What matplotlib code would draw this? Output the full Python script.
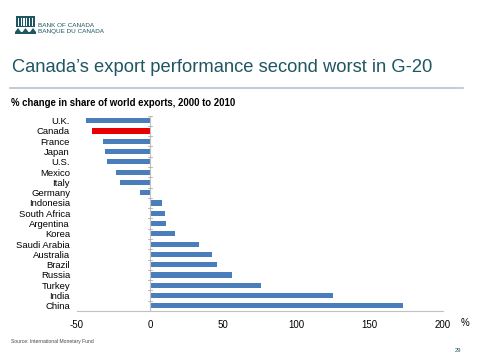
import matplotlib
matplotlib.use("Agg")
import matplotlib.pyplot as plt
from matplotlib.patches import Rectangle, Polygon

plt.rcParams['font.family'] = ['Liberation Sans', 'DejaVu Sans']

countries = ["U.K.", "Canada", "France", "Japan", "U.S.", "Mexico", "Italy", "Germany",
             "Indonesia", "South Africa", "Argentina", "Korea", "Saudi Arabia", "Australia",
             "Brazil", "Russia", "Turkey", "India", "China"]
values = [-43.6, -40.0, -32.0, -31.0, -29.2, -23.3, -20.3, -6.7,
          8.4, 10.4, 10.7, 17.0, 33.0, 42.2, 45.4, 55.7, 76.0, 125.0, 173.0]
highlight = "Canada"
xticks = [-50, 0, 50, 100, 150, 200]

BLUE = "#4a7ebb"
RED = "#e60000"
TEAL = "#1f5663"

fig = plt.figure(figsize=(4.8, 3.6), dpi=100)

# Logo
la = fig.add_axes([15/480, 1-35/360, 21/480, 22/360])
la.set_xlim(0, 21); la.set_ylim(0, 22); la.axis('off')
la.add_patch(Rectangle((1, 8), 19, 11, facecolor=TEAL, edgecolor='none'))
for i in range(6):
    la.add_patch(Rectangle((3 + i*2.7, 9), 1.2, 8, facecolor='white', edgecolor='none'))
la.add_patch(Polygon([(0, 1), (21, 1), (21, 3), (0, 3)], facecolor=TEAL, edgecolor='none'))
for cx in (3, 10.5, 18):
    la.add_patch(Polygon([(cx-3, 3), (cx+3, 3), (cx, 7)], facecolor=TEAL, edgecolor='none'))
fig.text(38/480, 1-25.5/360, "BANK OF CANADA", fontsize=4.6, color=TEAL, va='center')
fig.text(38/480, 1-31.5/360, "BANQUE DU CANADA", fontsize=4.6, color=TEAL, va='center')

# Title
fig.text(12/480, 1-67/360, "Canada\u2019s export performance second worst in G-20",
         fontsize=13.2, color=TEAL, va='center')
fig.add_artist(plt.Line2D([10/480, 463/480], [1-88/360, 1-88/360], color='#b8c4c8', lw=1.2))
fig.text(11/480, 1-103/360, "% change in share of world exports, 2000 to 2010",
         fontsize=6.9, fontweight='bold', color='black', va='center')
fig.text(11/480, 1-341/360, "Source: International Monetary Fund", fontsize=3.6, color='#444444', va='center')
fig.text(455/480, 1-350/360, "29", fontsize=4.2, color=TEAL, va='center')

ax = fig.add_axes([77/480, 1-311/360, 366/480, 195.5/360])
ypos = list(range(len(countries)))
colors = [RED if c == highlight else BLUE for c in countries]
ax.barh(ypos, values, height=0.5, color=colors)
ax.set_xlim(xticks[0], xticks[-1])
ax.set_ylim(len(countries) - 0.5, -0.5)
ax.set_xticks(xticks)
ax.set_xticklabels([str(t) for t in xticks], fontsize=7)
ax.set_yticks(ypos)
ax.set_yticklabels(countries, fontsize=6.8)
ax.tick_params(axis='y', length=0, pad=5)
ax.tick_params(axis='x', length=0, pad=6.5)
for s in ('top', 'right', 'left'):
    ax.spines[s].set_visible(False)
ax.spines['bottom'].set_color('#c0c0c0')
ax.spines['bottom'].set_linewidth(0.8)
ax.axvline(0, color='#c0c0c0', lw=0.8)
for b in [i - 0.5 for i in range(len(countries) + 1)]:
    ax.plot([-1.5, 1.5], [b, b], color='#b0b0b0', lw=0.6, clip_on=False)
fig.text(465/480, 1-323/360, "%", fontsize=7, va='center', ha='center')

fig.savefig("out.png", dpi=100, facecolor='white')
